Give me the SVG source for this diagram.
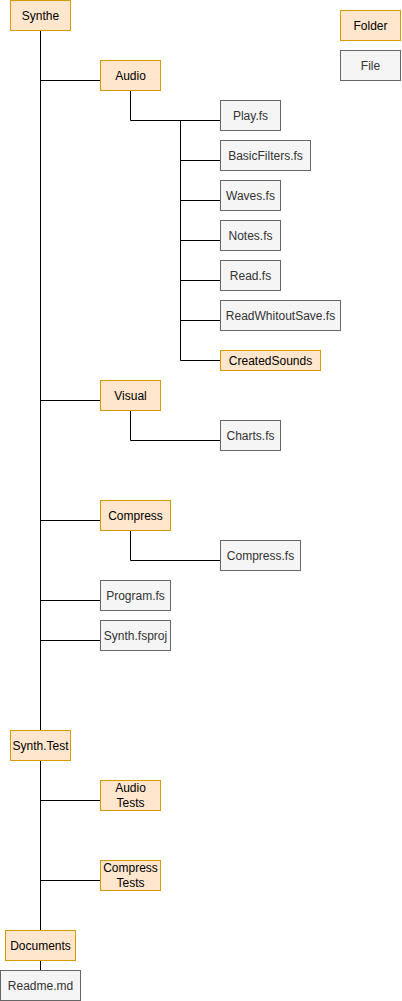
<svg xmlns="http://www.w3.org/2000/svg" width="402" height="1001" viewBox="0 0 402 1001">
<style>
.folder rect{fill:#ffe6cc;stroke:#d79b00;stroke-width:1}
.file rect{fill:#f5f5f5;stroke:#666666;stroke-width:1}
text{font-family:"Liberation Sans",Arial,sans-serif;font-size:12px;text-anchor:middle;dominant-baseline:central}
.folder text{fill:#000000}
.file text{fill:#333333}
.conn path{fill:none;stroke:#000000;stroke-width:1}
</style>
<rect width="402" height="1001" fill="#ffffff"/>
<g class="conn" id="connectors">
<path d="M40.5 30.5 V730.5"/>
<path d="M40.5 760.5 V930.5"/>
<path d="M40.5 960.5 V970.5"/>
<path d="M40.5 80.5 H100.5"/>
<path d="M130.5 90.5 V120.5 H220.5"/>
<path d="M180.5 120.5 V360.5 H220.5"/>
<path d="M180.5 160.5 H220.5"/>
<path d="M180.5 200.5 H220.5"/>
<path d="M180.5 240.5 H220.5"/>
<path d="M180.5 280.5 H220.5"/>
<path d="M180.5 320.5 H220.5"/>
<path d="M40.5 400.5 H100.5"/>
<path d="M130.5 410.5 V440.5 H220.5"/>
<path d="M40.5 520.5 H100.5"/>
<path d="M130.5 530.5 V560.5 H220.5"/>
<path d="M40.5 600.5 H100.5"/>
<path d="M40.5 640.5 H100.5"/>
<path d="M40.5 800.5 H100.5"/>
<path d="M40.5 880.5 H100.5"/>
</g>
<g id="synthe" class="folder"><rect x="10.5" y="0.5" width="60" height="30"/><text x="40.5" y="15.5">Synthe</text></g>
<g id="audio" class="folder"><rect x="100.5" y="60.5" width="60" height="30"/><text x="130.5" y="75.5">Audio</text></g>
<g id="play" class="file"><rect x="220.5" y="100.5" width="60" height="30"/><text x="250.5" y="115.5">Play.fs</text></g>
<g id="basicfilters" class="file"><rect x="220.5" y="140.5" width="90" height="30"/><text x="265.5" y="155.5">BasicFilters.fs</text></g>
<g id="waves" class="file"><rect x="220.5" y="180.5" width="60" height="30"/><text x="250.5" y="195.5">Waves.fs</text></g>
<g id="notes" class="file"><rect x="220.5" y="220.5" width="60" height="30"/><text x="250.5" y="235.5">Notes.fs</text></g>
<g id="read" class="file"><rect x="220.5" y="260.5" width="60" height="30"/><text x="250.5" y="275.5">Read.fs</text></g>
<g id="readwhitoutsave" class="file"><rect x="220.5" y="300.5" width="120" height="30"/><text x="280.5" y="315.5">ReadWhitoutSave.fs</text></g>
<g id="createdsounds" class="folder"><rect x="220.5" y="350.5" width="100" height="20"/><text x="270.5" y="360.5">CreatedSounds</text></g>
<g id="visual" class="folder"><rect x="100.5" y="380.5" width="60" height="30"/><text x="130.5" y="395.5">Visual</text></g>
<g id="charts" class="file"><rect x="220.5" y="420.5" width="60" height="30"/><text x="250.5" y="435.5">Charts.fs</text></g>
<g id="compress" class="folder"><rect x="100.5" y="500.5" width="70" height="30"/><text x="135.5" y="515.5">Compress</text></g>
<g id="compressfs" class="file"><rect x="220.5" y="540.5" width="80" height="30"/><text x="260.5" y="555.5">Compress.fs</text></g>
<g id="program" class="file"><rect x="100.5" y="580.5" width="70" height="30"/><text x="135.5" y="595.5">Program.fs</text></g>
<g id="fsproj" class="file"><rect x="100.5" y="620.5" width="70" height="30"/><text x="135.5" y="635.5">Synth.fsproj</text></g>
<g id="synthtest" class="folder"><rect x="10.5" y="730.5" width="60" height="30"/><text x="40.5" y="745.5">Synth.Test</text></g>
<g id="audiotests" class="folder"><rect x="100.5" y="780.5" width="60" height="30"/><text x="130.5" y="788">Audio</text><text x="130.5" y="803">Tests</text></g>
<g id="compresstests" class="folder"><rect x="100.5" y="860.5" width="60" height="30"/><text x="130.5" y="868">Compress</text><text x="130.5" y="883">Tests</text></g>
<g id="documents" class="folder"><rect x="5.5" y="930.5" width="70" height="30"/><text x="40.5" y="945.5">Documents</text></g>
<g id="readme" class="file"><rect x="0.5" y="970.5" width="80" height="30"/><text x="40.5" y="985.5">Readme.md</text></g>
<g id="legend-folder" class="folder"><rect x="340.5" y="10.5" width="60" height="30"/><text x="370.5" y="25.5">Folder</text></g>
<g id="legend-file" class="file"><rect x="340.5" y="50.5" width="60" height="30"/><text x="370.5" y="65.5">File</text></g>
</svg>
